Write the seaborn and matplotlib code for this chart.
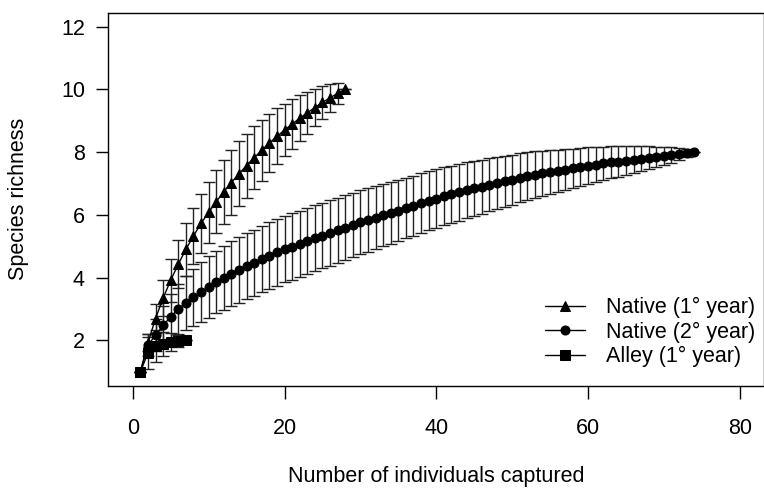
import numpy as np
import pandas as pd
import matplotlib
matplotlib.use('Agg')
import matplotlib.pyplot as plt
import seaborn as sns

# rarefaction curves (mean and sd per sample size)
native1_mean = [1.00, 1.93, 2.70, 3.35, 3.92, 4.43, 4.90, 5.33, 5.73, 6.08,
                6.42, 6.74, 7.03, 7.31, 7.57, 7.82, 8.06, 8.29, 8.50, 8.70,
                8.89, 9.08, 9.25, 9.42, 9.58, 9.73, 9.87, 10.00]
native1_sd = [0.00, 0.28, 0.45, 0.58, 0.68, 0.77, 0.84, 0.90, 0.95, 0.98,
              1.00, 1.02, 1.03, 1.03, 1.02, 1.00, 0.97, 0.93, 0.89, 0.84,
              0.79, 0.73, 0.67, 0.60, 0.53, 0.45, 0.33, 0.00]

native2_mean = [1.00, 1.85, 2.17, 2.48, 2.76, 3.00, 3.20, 3.38, 3.55, 3.71,
                3.86, 4.00, 4.13, 4.25, 4.37, 4.48, 4.59, 4.70, 4.81, 4.91,
                4.99, 5.08, 5.17, 5.25, 5.34, 5.42, 5.51, 5.59, 5.68, 5.76,
                5.84, 5.91, 5.99, 6.07, 6.14, 6.22, 6.29, 6.37, 6.45, 6.52,
                6.59, 6.65, 6.72, 6.78, 6.85, 6.90, 6.96, 7.01, 7.07, 7.12,
                7.18, 7.23, 7.28, 7.32, 7.36, 7.40, 7.44, 7.48, 7.52, 7.56,
                7.60, 7.64, 7.67, 7.70, 7.73, 7.76, 7.79, 7.82, 7.85, 7.88,
                7.91, 7.94, 7.97, 8.00]
native2_sd = [0.00, 0.35, 0.50, 0.62, 0.72, 0.80, 0.86, 0.91, 0.95, 0.98,
              1.00, 1.02, 1.03, 1.04, 1.05, 1.05, 1.06, 1.06, 1.06, 1.06,
              1.06, 1.05, 1.05, 1.05, 1.04, 1.04, 1.03, 1.03, 1.02, 1.02,
              1.01, 1.00, 0.99, 0.99, 0.98, 0.97, 0.96, 0.95, 0.94, 0.93,
              0.92, 0.91, 0.90, 0.89, 0.88, 0.86, 0.85, 0.83, 0.81, 0.80,
              0.78, 0.76, 0.74, 0.72, 0.70, 0.68, 0.66, 0.63, 0.61, 0.59,
              0.56, 0.53, 0.51, 0.48, 0.45, 0.42, 0.39, 0.36, 0.32, 0.29,
              0.25, 0.20, 0.14, 0.00]

alley_mean = [1.00, 1.60, 1.82, 1.90, 1.95, 1.98, 2.00]
alley_sd = [0.00, 0.50, 0.50, 0.38, 0.28, 0.18, 0.00]

labels = ['Native (1° year)', 'Native (2° year)', 'Alley (1° year)']
markers = ['^', 'o', 's']

sns.set_style('ticks')
plt.rcParams['font.family'] = ['Liberation Sans', 'DejaVu Sans']
plt.rcParams['text.color'] = 'black'
plt.rcParams['axes.labelcolor'] = 'black'
plt.rcParams['xtick.color'] = 'black'
plt.rcParams['ytick.color'] = 'black'

fs = 15.5

fig = plt.figure(figsize=(7.64, 4.88), dpi=100)
ax = fig.add_axes([0.142, 0.2096, 0.858, 0.7644])

series = [(native1_mean, native1_sd), (native2_mean, native2_sd), (alley_mean, alley_sd)]
for (mean, sd), lab, mk in zip(series, labels, markers):
    df = pd.DataFrame({'n': np.arange(1, len(mean) + 1), 'mean': mean, 'sd': sd})
    ax.errorbar(df['n'], df['mean'], yerr=df['sd'], fmt='none', ecolor='#222222',
                elinewidth=1, capsize=4.3, capthick=1, zorder=2)
    sns.lineplot(data=df, x='n', y='mean', ax=ax, color='black', linewidth=1,
                 marker=mk, markersize=6.5, markeredgecolor='black',
                 markerfacecolor='black', label=lab, zorder=3)

ax.set_xlim(-3.2, 83.2)
ax.set_ylim(0.56, 12.44)
ax.set_xticks([0, 20, 40, 60, 80])
ax.set_yticks([2, 4, 6, 8, 10, 12])
ax.tick_params(direction='out', length=9, width=1, labelsize=fs)
ax.tick_params(axis='x', pad=14)
ax.tick_params(axis='y', pad=8)
for s in ax.spines.values():
    s.set_linewidth(1)
    s.set_color('black')

ax.set_xlabel('Number of individuals captured', fontsize=fs)
ax.set_ylabel('Species richness', fontsize=fs)
ax.xaxis.label.set_va('baseline')
ax.xaxis.set_label_coords(0.5, -0.257)
ax.yaxis.label.set_va('center')
ax.yaxis.set_label_coords(-0.138, 0.5)

ax.legend(loc='lower right', bbox_to_anchor=(0.987, 0.05), frameon=False,
          fontsize=fs, handlelength=1.85, handletextpad=1.0, labelspacing=0.15,
          borderaxespad=0, borderpad=0)

fig.savefig('out.png', dpi=100)
